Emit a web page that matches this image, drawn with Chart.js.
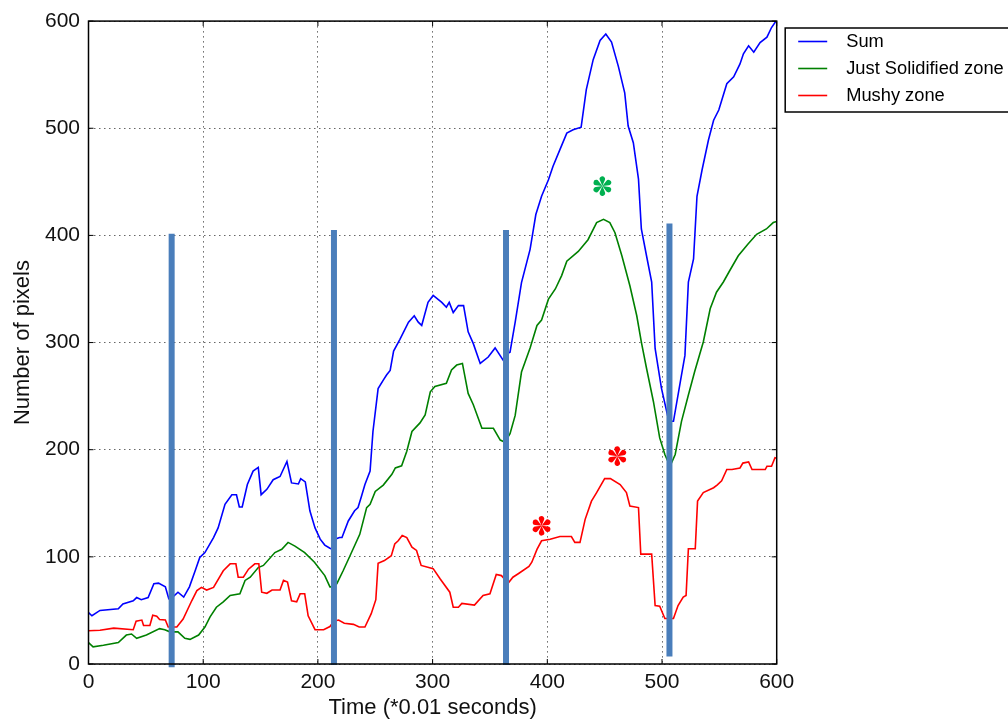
<!DOCTYPE html>
<html>
<head>
<meta charset="utf-8">
<script src="https://cdn.jsdelivr.net/npm/chart.js@4.4.1/dist/chart.umd.min.js"></script>
<style>
  html, body { margin: 0; padding: 0; background: #fff; }
  canvas { display: block; }
</style>
</head>
<body>
<canvas id="c" width="1008" height="723"></canvas>
<script>
// ---- Data ----
const seriesLabels = ['Sum', 'Just Solidified zone', 'Mushy zone'];

const sumX = [0,3,10,26,30,39,42,46,52,57,61,67,70,73,78,83,88,93,97,101.5,109,113,119,125,129,131.5,134,138.5,143.5,148,150.5,155.5,161,167,173,177,183,185,189,193,197.5,202,206,210.5,213,216,219,221,226.5,232,235,238,241,245.5,248,252.5,257,260,263,266,271.5,279,284,287.5,290.5,296,300.5,308,312,314.5,318,322.5,327,331,335.5,341.5,348.5,354.5,361.5,364,367.5,372,377.5,385,390,395,401,405,411,417,422.5,429.5,434,440,446,451,456,462,467.5,470.5,475,479.5,482,486.5,491,494,499.5,506,510,516,520,523,527.5,530.5,535,540.5,545,549.5,556.5,562.5,568,571,575.5,580,585.5,591.5,595.5,600];
const sumY = [48,45,50,51.5,56,59,62,60,62,75,75.5,72,61,62,67,62.5,72,87,99.5,104,118,127,149,158,158,146.5,146.5,167.5,180,183.5,158,163,172,175,189,169,168,173,170,143,127,116.5,111,108,107,117,118,118,133.5,143,146,156.5,167.5,180,217,257,265,270,274,292,303,319,325,319,316,337.5,344,337.5,333,337.5,328,334.5,334.5,310,299,280.5,286.5,295,283.5,289,291,319,356,387,419.5,436.5,452,464.5,480,495.5,498.5,501,536,564,582,588,580.5,557.5,533,502,486.5,452.5,406,381,356.5,294.5,257.5,226.5,226.5,263.5,288,356.5,378,436.5,461.5,489,507.5,517,541.5,548,560,569.5,577,571,580,585,594,601];

const solidX = [0,4,13,26,33,37.5,42,50.5,62,66.5,71,78,84,88.5,96,101.5,106,111.5,117.5,123.5,132,136.5,141,148,152.5,162.5,168.5,174,180,188.5,197,206,210.5,213,216.5,222,228,236.5,242.5,245.5,250,257,264.5,267.5,273,277.5,282,289,293.5,298,302,312,316.5,321,326,331,335.5,343,353,359,363,367.5,372,377.5,385,391,395,401,407,412.5,417,427,435.5,443,449,454.5,459,465,472,478,482,486.5,492.5,498,502.5,507,511.5,517,523,528.5,536,542,547.5,553.5,559,566.5,575,582.5,591,597,600];
const solidY = [20,16,17.5,20,27,28,24,27,33,32,30,30,24,23,27,34.5,44,53,58,64,65.5,78,81,90,92,104,107,113.5,110,104,95,82.5,72,72,75,87,101,121,146,149,161,167,177,183,185,198.5,217,225,232.5,254,259,262,274.5,279,280.5,252.5,242,220,220,209,207,215,232,272.5,295,316,321,340.5,350,362.5,376,385,396,412,415,412,402.5,381,353,325,300.5,276,245,211,195.5,184.5,195.5,226.5,251,273,300.5,331.5,347,356.5,367,381,392,401,406,412,413];

const mushyX = [0,10,22,39,41.5,46.5,48,53.5,56,59.5,62,67,69.5,77,82.5,90,94.5,98.5,103,109,117.5,123.5,128.5,130.5,135,139.5,145,148.5,151,155.5,160,167,170,173.5,177,181.5,184.5,188.5,191.5,197.5,205,210.5,214,218,223,231,236,241,246.5,250.5,252.5,258,264,267,270,273.5,277.5,282,286,290,300.5,306.5,315,318,322.5,325.5,336.5,344,350,355.5,360,366,370,375,384,386.5,391,395,402.5,411,421,424,428.5,433,438.5,443,450,455,463.5,469,472,479.5,481.5,491,494,498,502.5,510,514,518.5,521,523,529,531,536,545,548,552,556.5,561,568,570.5,575.5,578.5,590,591.5,595.5,598.5,600];
const mushyY = [31,31.5,33.5,32,40,41,36,36,45.5,44.5,41.5,41,34.5,34.5,42,59,68.5,71.5,69,71.5,87,93.5,93.5,81,81,88.5,93.5,93.5,67,66,69,69,78,76.5,59,58,65.5,65.5,45,32,32,35,40,41,38,37,34.5,34.5,47,60,94,96.5,101,112,115,120,118,109,106,92,89,79.5,67,53,53,56.5,55,64,65.5,83.5,82.5,75.5,81,84.5,91,95,107,115,116.5,119,119,113.5,113.5,135,152,160,173,173,167.5,160,147.5,146,102.5,102.5,54.5,54,42.5,42.5,54.5,62.5,64,107.5,107.5,152,160,164.5,167,171,181.5,181.5,183,187.5,188.5,181.5,181.5,184.5,184.5,192.5,192];

// thick vertical marker bars
const barX      = [72.5, 214, 364, 506.5];
const barTop    = [401.5, 405, 405, 411];
const barBottom = [-3, -1, -1, 7];

// asterisk annotations
const starX = [448, 461, 395];
const starY = [446, 194, 129];
const starColors = ['#00b050', '#ff0000', '#ff0000'];

const xTicks = [0, 100, 200, 300, 400, 500, 600];
const yTicks = [0, 100, 200, 300, 400, 500, 600];

// ---- Build datasets ----
const toPts = (xs, ys) => xs.map((x, i) => ({x: x, y: ys[i]}));
const FONT = "'Liberation Sans', Arial, Helvetica, sans-serif";

const datasets = [
  {label: seriesLabels[0], data: toPts(sumX, sumY), borderColor: 'rgb(0,0,255)', borderWidth: 1.6, showLegend: true, order: 3},
  {label: seriesLabels[1], data: toPts(solidX, solidY), borderColor: 'rgb(0,128,0)', borderWidth: 1.6, showLegend: true, order: 2},
  {label: seriesLabels[2], data: toPts(mushyX, mushyY), borderColor: 'rgb(255,0,0)', borderWidth: 1.6, showLegend: true, order: 1}
];
barX.forEach((bx, i) => {
  datasets.push({
    label: 'bar' + i,
    data: [{x: bx, y: barBottom[i]}, {x: bx, y: barTop[i]}],
    borderColor: '#4a7ebb', borderWidth: 6, borderCapStyle: 'butt',
    clip: false, order: 0
  });
});
datasets.forEach(d => { d.pointRadius = 0; d.pointHoverRadius = 0; d.tension = 0; d.fill = false; });

// ---- plugins ----
const framePlugin = {
  id: 'frame',
  afterDatasetsDraw(chart) {
    const {ctx, chartArea: a, scales} = chart;
    ctx.save();
    ctx.strokeStyle = '#000';
    ctx.lineWidth = 1;
    const L = 5;
    xTicks.forEach(v => {
      const px = scales.x.getPixelForValue(v);
      ctx.beginPath(); ctx.moveTo(px, a.bottom); ctx.lineTo(px, a.bottom - L); ctx.stroke();
      ctx.beginPath(); ctx.moveTo(px, a.top); ctx.lineTo(px, a.top + L); ctx.stroke();
    });
    yTicks.forEach(v => {
      const py = scales.y.getPixelForValue(v);
      ctx.beginPath(); ctx.moveTo(a.left, py); ctx.lineTo(a.left + L, py); ctx.stroke();
      ctx.beginPath(); ctx.moveTo(a.right, py); ctx.lineTo(a.right - L, py); ctx.stroke();
    });
    ctx.lineWidth = 1.5;
    ctx.strokeRect(a.left, a.top, a.right - a.left, a.bottom - a.top);
    ctx.restore();
  }
};

// six teardrop-spoked asterisk
function drawAsterisk(ctx, cx, cy, R, color) {
  const r = R * 0.28;
  ctx.save();
  ctx.fillStyle = color;
  for (let k = 0; k < 6; k++) {
    const ang = -Math.PI / 2 + k * Math.PI / 3;
    ctx.save();
    ctx.translate(cx, cy);
    ctx.rotate(ang);
    const d = R - r; // centre of the round end
    const t = Math.asin(r / d);
    ctx.beginPath();
    ctx.moveTo(0, 0);
    ctx.lineTo(d - r * Math.sin(t), -r * Math.cos(t));
    ctx.arc(d, 0, r, -Math.PI / 2 - t, Math.PI / 2 + t, false);
    ctx.closePath();
    ctx.fill();
    ctx.restore();
  }
  ctx.restore();
}

const starPlugin = {
  id: 'stars',
  afterDraw(chart) {
    const {ctx, scales} = chart;
    starX.forEach((sx, i) => {
      drawAsterisk(ctx, scales.x.getPixelForValue(sx), scales.y.getPixelForValue(starY[i]), 9.8, starColors[i]);
    });
  }
};

const legendPlugin = {
  id: 'boxLegend',
  afterDraw(chart) {
    const {ctx, chartArea: a} = chart;
    const items = chart.data.datasets.filter(d => d.showLegend);
    const left = a.right + 8.5, top = 28, rowH = 27;
    ctx.save();
    ctx.fillStyle = '#fff';
    ctx.fillRect(left, top, 240, 84);
    ctx.strokeStyle = '#000';
    ctx.lineWidth = 1.5;
    ctx.strokeRect(left, top, 240, 84);
    ctx.font = '18.3px ' + FONT;
    ctx.textBaseline = 'middle';
    ctx.textAlign = 'left';
    items.forEach((d, i) => {
      const y = top + 13.5 + i * rowH;
      ctx.strokeStyle = d.borderColor;
      ctx.lineWidth = 1.6;
      ctx.beginPath(); ctx.moveTo(left + 13, y); ctx.lineTo(left + 42, y); ctx.stroke();
      ctx.fillStyle = '#000';
      ctx.fillText(d.label, left + 61, y);
    });
    ctx.restore();
  }
};

new Chart(document.getElementById('c'), {
  type: 'line',
  data: {datasets},
  options: {
    responsive: false,
    animation: false,
    devicePixelRatio: 1,
    layout: {padding: {left: 0, top: 17.3, right: 231.3, bottom: 0}},
    plugins: {legend: {display: false}, tooltip: {enabled: false}},
    scales: {
      x: {
        type: 'linear', min: 0, max: 600,
        afterBuildTicks: s => { s.ticks = xTicks.map(v => ({value: v})); },
        afterFit: s => { s.height = 59; },
        ticks: {font: {family: FONT, size: 21}, color: '#111', padding: 6, maxRotation: 0},
        grid: {color: 'rgba(0,0,0,0.6)', lineWidth: 1, drawTicks: false},
        border: {display: false, dash: [1.5, 3.5]},
        title: {display: true, text: 'Time (*0.01 seconds)', font: {family: FONT, size: 22}, color: '#111', padding: {top: 0, bottom: 2}}
      },
      y: {
        type: 'linear', min: 0, max: 600,
        afterBuildTicks: s => { s.ticks = yTicks.map(v => ({value: v})); },
        afterFit: s => { s.width = 88.5; },
        ticks: {font: {family: FONT, size: 21}, color: '#111', padding: 8.5},
        grid: {color: 'rgba(0,0,0,0.6)', lineWidth: 1, drawTicks: false},
        border: {display: false, dash: [1.5, 3.5]},
        title: {display: true, text: 'Number of pixels', font: {family: FONT, size: 22}, color: '#111', padding: {top: 10, bottom: 0}}
      }
    }
  },
  plugins: [framePlugin, starPlugin, legendPlugin]
});
</script>
</body>
</html>
